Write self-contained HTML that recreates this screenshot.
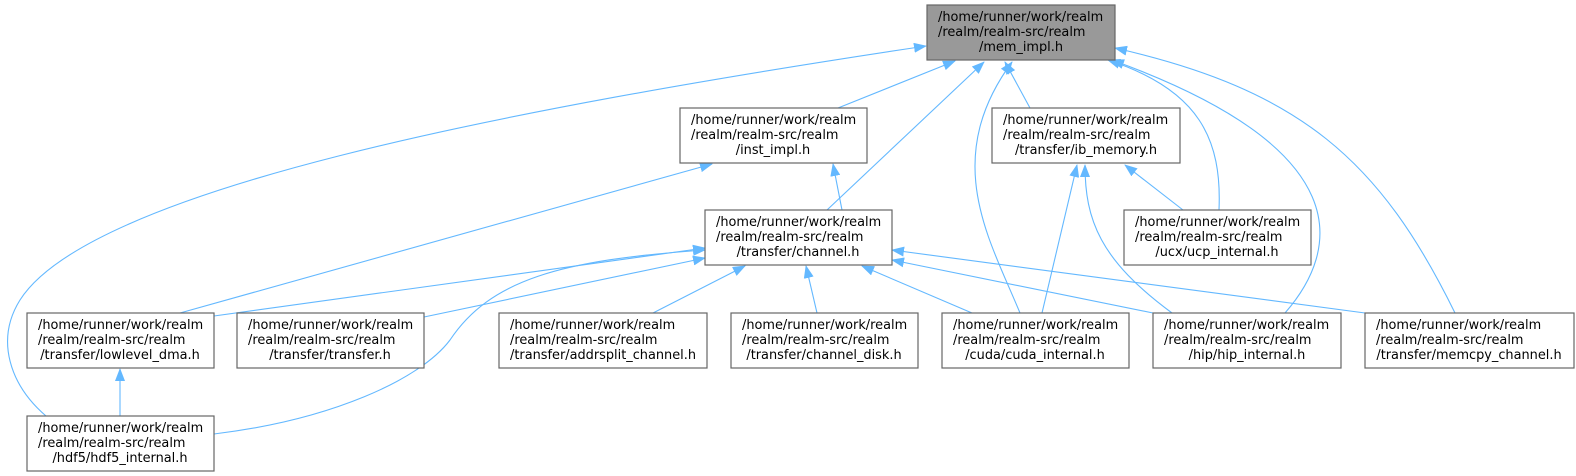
<!DOCTYPE html>
<html><head><meta charset="utf-8"><style>
html,body{margin:0;padding:0;background:#fff;}
svg{display:block;}
text{font-family:"DejaVu Sans","Liberation Sans",sans-serif;font-size:12.9px;fill:#000;}
.b{fill:#fff;stroke:#666;stroke-width:1.2;}
.e{fill:none;stroke:#63b8ff;stroke-width:1.1;marker-end:url(#a);}
</style></head><body>
<svg width="1576" height="476" viewBox="0 0 1576 476" xmlns="http://www.w3.org/2000/svg">
<defs><marker id="a" markerWidth="13" markerHeight="10" refX="12" refY="5" orient="auto" markerUnits="userSpaceOnUse"><path d="M0,0 L13,5 L0,10 z" fill="#63b8ff"/></marker></defs>

<!-- edges -->
<path class="e" d="M838,108 L955,61"/>
<path class="e" d="M827,210 L984,62"/>
<path class="e" d="M1020,313 C990,240 940,160 1012,62"/>
<path class="e" d="M1030,108 L1005,62"/>
<path class="e" d="M1219,210 C1222,140 1200,90 1108,60"/>
<path class="e" d="M1285,313 C1340,250 1360,150 1112,60"/>
<path class="e" d="M1455,313 C1380,160 1300,90 1115,48"/>
<path class="e" d="M46,416 C10,385 -5,340 20,300 C90,190 500,110 926,46"/>
<path class="e" d="M842,210 L833,164"/>
<path class="e" d="M180,313 L712,164"/>
<path class="e" d="M1183,210 L1125,165"/>
<path class="e" d="M1042,313 L1077,165"/>
<path class="e" d="M1172,313 C1100,260 1085,220 1085,165"/>
<path class="e" d="M214,316 L705,248"/>
<path class="e" d="M424,317 L705,258"/>
<path class="e" d="M214,434 C330,420 420,380 450,340 C490,280 560,260 705,250"/>
<path class="e" d="M653,313 L745,266"/>
<path class="e" d="M817,313 L806,266"/>
<path class="e" d="M972,313 L862,266"/>
<path class="e" d="M1153,313 L892,260"/>
<path class="e" d="M1365,313 L892,250"/>
<path class="e" d="M120,416 L120,369"/>

<!-- nodes -->
<rect x="927" y="5" width="188" height="55" fill="#999" stroke="#666" stroke-width="1.2"/>
<text x="938" y="21">/home/runner/work/realm</text><text x="938" y="36">/realm/realm-src/realm</text><text x="1021" y="51" text-anchor="middle">/mem_impl.h</text>

<rect class="b" x="680" y="108" width="187" height="55"/>
<text x="691" y="124">/home/runner/work/realm</text><text x="691" y="139">/realm/realm-src/realm</text><text x="773" y="154" text-anchor="middle">/inst_impl.h</text>

<rect class="b" x="992" y="108" width="188" height="55"/>
<text x="1003" y="124">/home/runner/work/realm</text><text x="1003" y="139">/realm/realm-src/realm</text><text x="1086" y="154" text-anchor="middle">/transfer/ib_memory.h</text>

<rect class="b" x="705" y="210" width="187" height="55"/>
<text x="716" y="226">/home/runner/work/realm</text><text x="716" y="241">/realm/realm-src/realm</text><text x="798" y="256" text-anchor="middle">/transfer/channel.h</text>

<rect class="b" x="1124" y="210" width="187" height="55"/>
<text x="1135" y="226">/home/runner/work/realm</text><text x="1135" y="241">/realm/realm-src/realm</text><text x="1217" y="256" text-anchor="middle">/ucx/ucp_internal.h</text>

<rect class="b" x="27" y="313" width="187" height="55"/>
<text x="38" y="329">/home/runner/work/realm</text><text x="38" y="344">/realm/realm-src/realm</text><text x="120" y="359" text-anchor="middle">/transfer/lowlevel_dma.h</text>

<rect class="b" x="237" y="313" width="187" height="55"/>
<text x="248" y="329">/home/runner/work/realm</text><text x="248" y="344">/realm/realm-src/realm</text><text x="330" y="359" text-anchor="middle">/transfer/transfer.h</text>

<rect class="b" x="499" y="313" width="208" height="55"/>
<text x="510" y="329">/home/runner/work/realm</text><text x="510" y="344">/realm/realm-src/realm</text><text x="603" y="359" text-anchor="middle">/transfer/addrsplit_channel.h</text>

<rect class="b" x="731" y="313" width="187" height="55"/>
<text x="742" y="329">/home/runner/work/realm</text><text x="742" y="344">/realm/realm-src/realm</text><text x="824" y="359" text-anchor="middle">/transfer/channel_disk.h</text>

<rect class="b" x="942" y="313" width="187" height="55"/>
<text x="953" y="329">/home/runner/work/realm</text><text x="953" y="344">/realm/realm-src/realm</text><text x="1035" y="359" text-anchor="middle">/cuda/cuda_internal.h</text>

<rect class="b" x="1153" y="313" width="188" height="55"/>
<text x="1164" y="329">/home/runner/work/realm</text><text x="1164" y="344">/realm/realm-src/realm</text><text x="1247" y="359" text-anchor="middle">/hip/hip_internal.h</text>

<rect class="b" x="1365" y="313" width="209" height="55"/>
<text x="1376" y="329">/home/runner/work/realm</text><text x="1376" y="344">/realm/realm-src/realm</text><text x="1469" y="359" text-anchor="middle">/transfer/memcpy_channel.h</text>

<rect class="b" x="27" y="416" width="187" height="55"/>
<text x="38" y="432">/home/runner/work/realm</text><text x="38" y="447">/realm/realm-src/realm</text><text x="120" y="462" text-anchor="middle">/hdf5/hdf5_internal.h</text>
</svg>
</body></html>
